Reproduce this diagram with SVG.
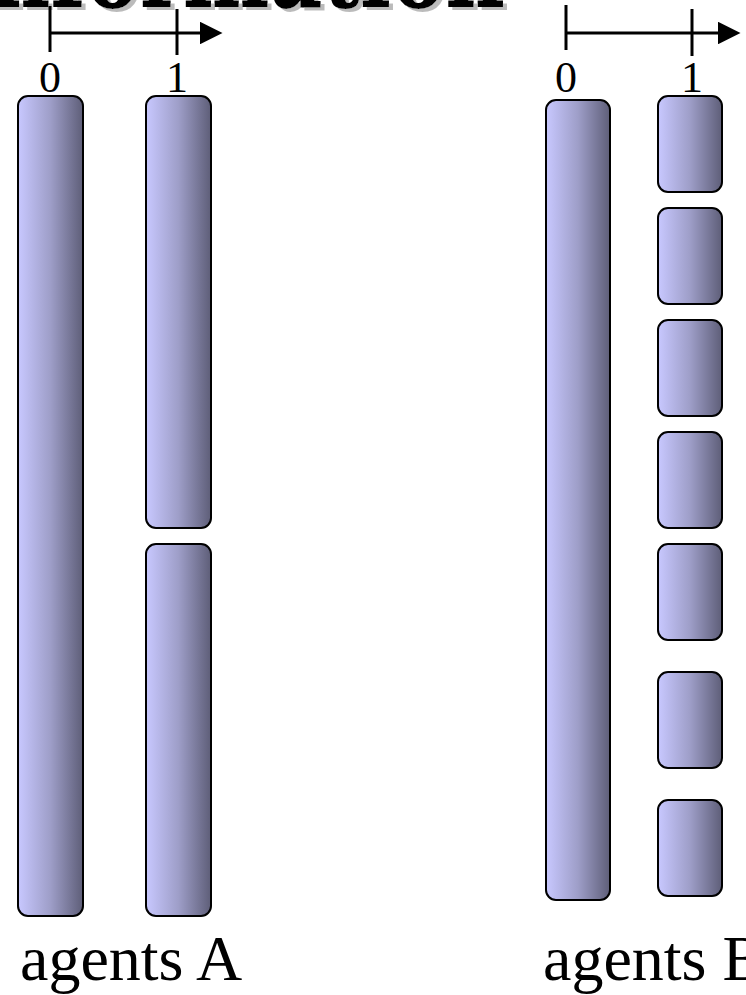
<svg xmlns="http://www.w3.org/2000/svg" width="746" height="995" viewBox="0 0 746 995">
<defs>
<linearGradient id="g" x1="0" y1="0" x2="1" y2="0">
<stop offset="0" stop-color="#c8c8ff"/>
<stop offset="0.5" stop-color="#9e9ec8"/>
<stop offset="1" stop-color="#5e5e78"/>
</linearGradient>
<filter id="shadow" x="-10%" y="-10%" width="120%" height="130%">
<feOffset in="SourceAlpha" dx="4" dy="3" result="o"/>
<feFlood flood-color="#bbbbbb"/>
<feComposite in2="o" operator="in" result="s"/>
<feMerge><feMergeNode in="s"/><feMergeNode in="SourceGraphic"/></feMerge>
</filter>
<marker id="ah" viewBox="0 0 10 10" refX="0" refY="5" markerWidth="7.5" markerHeight="7.5" markerUnits="strokeWidth" orient="auto">
<path d="M0,0 L10,5 L0,10 Z" fill="#000"/>
</marker>
<style>
.bar{fill:url(#g);stroke:#000;stroke-width:2}
.ax{stroke:#000;stroke-width:3;fill:none}
.num{font-family:"Liberation Serif",serif;font-size:44px;fill:#000;text-anchor:middle}
.lbl{font-family:"Liberation Serif",serif;font-size:64px;fill:#000}
.title{font-family:"DejaVu Serif",serif;font-weight:bold;font-size:110px}
</style>
</defs>
<g id="title">
<text class="title" x="-40" y="7" fill="#000" textLength="545" lengthAdjust="spacingAndGlyphs" filter="url(#shadow)">information</text>
</g>
<g id="connectors">
<line class="ax" x1="50" y1="33" x2="200" y2="33" marker-end="url(#ah)"/>
<line class="ax" x1="50" y1="6" x2="50" y2="52"/>
<line class="ax" x1="177" y1="9" x2="177" y2="55"/>
<line class="ax" x1="566" y1="5" x2="566" y2="50"/>
<line class="ax" x1="566" y1="33" x2="718" y2="33" marker-end="url(#ah)"/>
<line class="ax" x1="692" y1="9" x2="692" y2="56"/>
</g>
<g id="axis-labels">
<text class="num" x="50" y="92">0</text>
<text class="num" x="177" y="92">1</text>
<text class="num" x="566" y="92">0</text>
<text class="num" x="692" y="92">1</text>
</g>
<g id="agentsA">
<rect id="a0" class="bar" x="18" y="96" width="65" height="820" rx="10"/>
<rect id="a1" class="bar" x="146" y="96" width="65" height="432" rx="10"/>
<rect id="a2" class="bar" x="146" y="544" width="65" height="372" rx="10"/>
</g>
<g id="agentsB">
<rect id="b0" class="bar" x="546" y="100" width="64" height="800" rx="10"/>
<rect id="b1" class="bar" x="658" y="96" width="64" height="96" rx="10"/>
<rect id="b2" class="bar" x="658" y="208" width="64" height="96" rx="10"/>
<rect id="b3" class="bar" x="658" y="320" width="64" height="96" rx="10"/>
<rect id="b4" class="bar" x="658" y="432" width="64" height="96" rx="10"/>
<rect id="b5" class="bar" x="658" y="544" width="64" height="96" rx="10"/>
<rect id="b6" class="bar" x="658" y="672" width="64" height="96" rx="10"/>
<rect id="b7" class="bar" x="658" y="800" width="64" height="96" rx="10"/>
</g>
<g id="labels">
<text class="lbl" x="20" y="980">agents A</text>
<text class="lbl" x="543" y="980">agents B</text>
</g>
</svg>
